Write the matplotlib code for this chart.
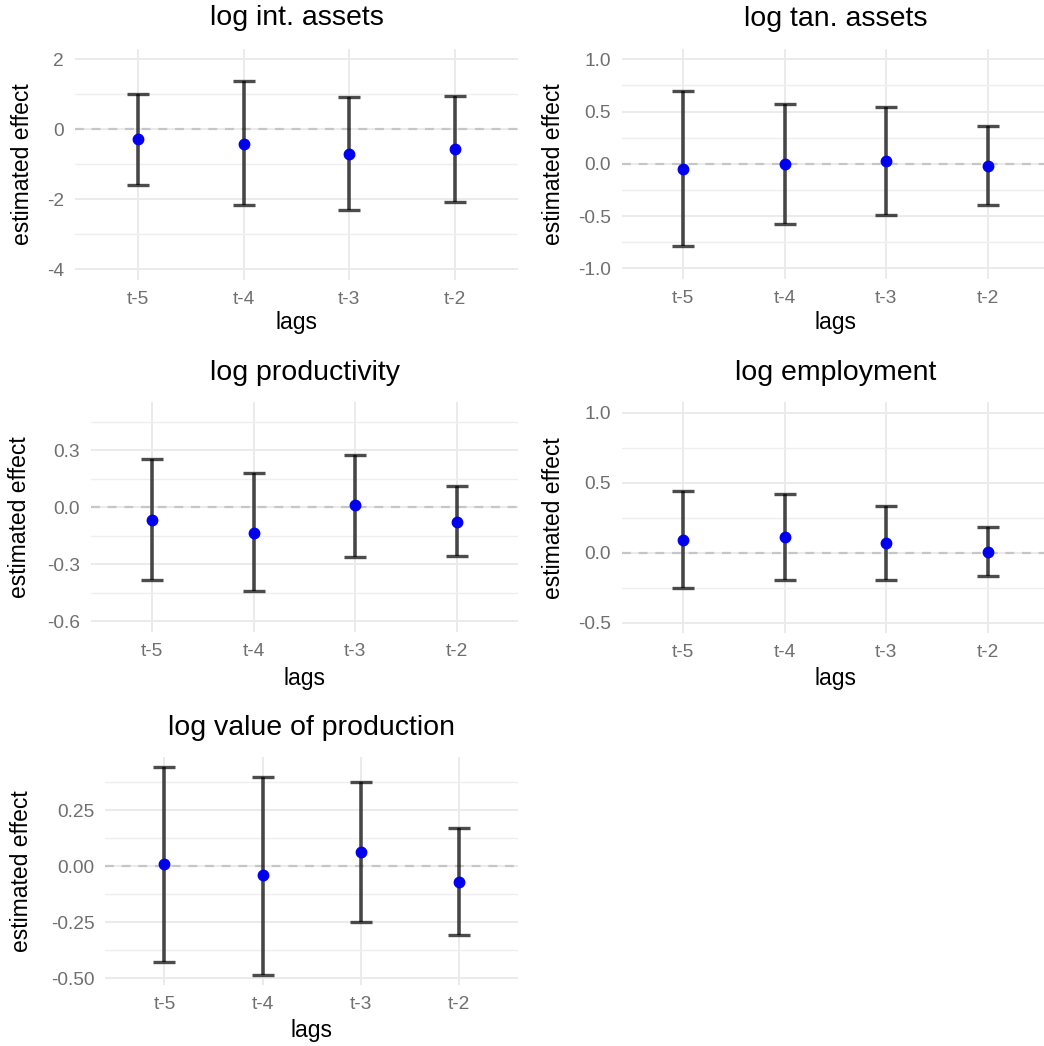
import numpy as np
import matplotlib
matplotlib.use("Agg")
import matplotlib.pyplot as plt

plt.rcParams['font.family'] = ['Liberation Sans', 'DejaVu Sans']
plt.rcParams['axes.unicode_minus'] = False

lags = ['t-5', 't-4', 't-3', 't-2']

titles = ['log int. assets', 'log tan. assets', 'log productivity',
          'log employment', 'log value of production']

# point estimates and confidence bounds, one list per outcome
est_int = [-0.27, -0.41, -0.71, -0.57]
lo_int = [-1.58, -2.15, -2.31, -2.08]
hi_int = [1.02, 1.37, 0.92, 0.95]

est_tan = [-0.053, -0.005, 0.024, -0.018]
lo_tan = [-0.79, -0.58, -0.49, -0.39]
hi_tan = [0.70, 0.57, 0.545, 0.36]

est_prod = [-0.069, -0.135, 0.009, -0.078]
lo_prod = [-0.384, -0.443, -0.263, -0.258]
hi_prod = [0.254, 0.179, 0.272, 0.109]

est_emp = [0.093, 0.114, 0.066, 0.007]
lo_emp = [-0.255, -0.195, -0.195, -0.167]
hi_emp = [0.443, 0.419, 0.333, 0.181]

est_vop = [0.009, -0.041, 0.062, -0.071]
lo_vop = [-0.428, -0.484, -0.249, -0.307]
hi_vop = [0.442, 0.398, 0.376, 0.170]

# y ticks / labels per panel
yt_int = [-4, -2, 0, 2]
yl_int = ['-4', '-2', '0', '2']
yt_tan = [-1.0, -0.5, 0.0, 0.5, 1.0]
yl_tan = ['-1.0', '-0.5', '0.0', '0.5', '1.0']
yt_prod = [-0.6, -0.3, 0.0, 0.3]
yl_prod = ['-0.6', '-0.3', '0.0', '0.3']
yt_emp = [-0.5, 0.0, 0.5, 1.0]
yl_emp = ['-0.5', '0.0', '0.5', '1.0']
yt_vop = [-0.50, -0.25, 0.00, 0.25]
yl_vop = ['-0.50', '-0.25', '0.00', '0.25']

# y limits set in the original (None = automatic)
lim_int = (-4, 2)
lim_tan = (-1, 1)
lim_prod = (-0.6, 0.5)
lim_emp = (-0.5, 1.0)
lim_vop = None

W, H = 1044, 1046
fig = plt.figure(figsize=(W / 100, H / 100), dpi=100)

# panel boxes in pixels: x0, x1, y0(top), y1(bottom), title y, xlabel y, ylabel x
boxes = [
    (75, 518, 48.8, 279.8, 18, 323, 22.7),
    (622, 1049, 48.8, 278.8, 19, 323, 553.7),
    (91, 518, 401.7, 631.7, 373, 678, 19.5),
    (622, 1049, 402.2, 633.2, 373, 678, 553.7),
    (105.4, 518.3, 756.7, 985, 728, 1031, 21.5),
]

panels = [
    (est_int, lo_int, hi_int, yt_int, yl_int, lim_int),
    (est_tan, lo_tan, hi_tan, yt_tan, yl_tan, lim_tan),
    (est_prod, lo_prod, hi_prod, yt_prod, yl_prod, lim_prod),
    (est_emp, lo_emp, hi_emp, yt_emp, yl_emp, lim_emp),
    (est_vop, lo_vop, hi_vop, yt_vop, yl_vop, lim_vop),
]

x = np.arange(len(lags))

for i, (est, lo, hi, yt, yl, lim) in enumerate(panels):
    x0, x1, y0, y1, ty, ly, yx = boxes[i]
    ax = fig.add_axes([x0 / W, 1 - y1 / H, (x1 - x0) / W, (y1 - y0) / H])
    est = np.array(est)
    lo = np.array(lo)
    hi = np.array(hi)

    ax.axhline(0, color='#c6c6c6', lw=1.6, dashes=(4, 3.5), zorder=1)
    ax.errorbar(x, est, yerr=[est - lo, hi - est], fmt='none', ecolor='black',
                alpha=0.7, elinewidth=2.6, capsize=8, capthick=2.4, zorder=2)
    ax.plot(x, est, 'o', color='#0000ee', ms=7.5, zorder=3)

    ax.set_xticks(x)
    ax.set_xticklabels(lags)
    ax.set_yticks(yt)
    ax.set_yticklabels(yl)
    step = yt[1] - yt[0]
    ax.set_yticks([t + step / 2 for t in [yt[0] - step] + list(yt)], minor=True)

    # limits after the ticks, with ggplot's 5% expansion
    ax.set_xlim(-0.6, 3.6)
    if lim is not None:
        d = (lim[1] - lim[0]) * 0.05
        ax.set_ylim(lim[0] - d, lim[1] + d)
    else:
        d = (max(hi) - min(lo)) * 0.05
        ax.set_ylim(min(lo) - d, max(hi) + d)

    for s in ax.spines.values():
        s.set_visible(False)
    ax.tick_params(which='both', length=0)
    ax.tick_params(axis='both', labelsize=13.8, labelcolor='#6f6f6f', pad=8)
    ax.grid(True, which='major', color='#ebebeb', lw=1.4)
    ax.grid(True, which='minor', axis='y', color='#efefef', lw=1.0)
    ax.set_axisbelow(True)

    ax.set_title(titles[i], fontsize=20.5, y=1 - (ty - y0) / (y1 - y0),
                 va='center', pad=0)
    ax.set_xlabel('lags', fontsize=16.5, va='center')
    ax.xaxis.set_label_coords(0.5, 1 - (ly - y0) / (y1 - y0))
    ax.set_ylabel('estimated effect', fontsize=16.5, va='center')
    ax.yaxis.set_label_coords((yx - x0) / (x1 - x0), 0.5)

fig.savefig('out.png', dpi=100, facecolor='white')
